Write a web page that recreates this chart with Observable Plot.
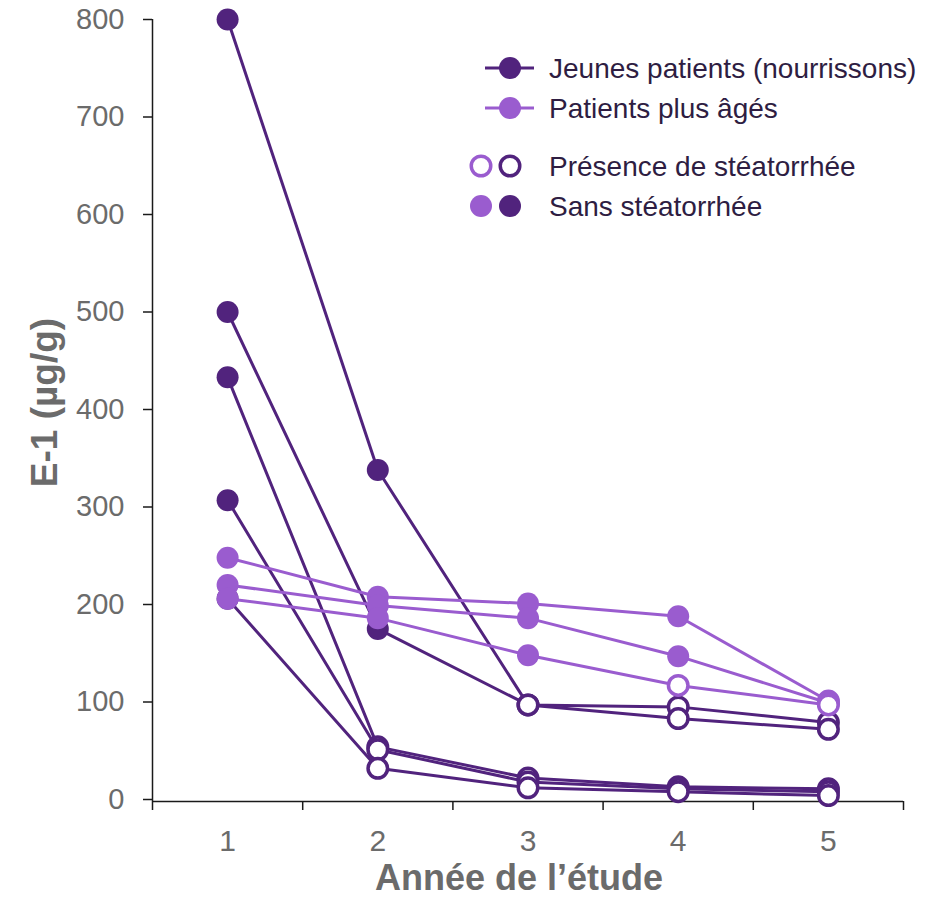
<!DOCTYPE html>
<html>
<head>
<meta charset="utf-8">
<script src="https://cdn.jsdelivr.net/npm/d3@7"></script>
<script src="https://cdn.jsdelivr.net/npm/@observablehq/plot@0.6"></script>
<style>
  body { margin: 0; background: #fff; }
  #chart { width: 938px; height: 898px; }
</style>
</head>
<body>
<div id="chart"></div>
<script>
// Study years and axis ticks
const years = [1, 2, 3, 4, 5];
const yearEdges = [0.5, 1.5, 2.5, 3.5, 4.5, 5.5];
const yTicks = [0, 100, 200, 300, 400, 500, 600, 700, 800];

// Faecal elastase-1 (µg/g) per patient and year — infants
const jeune1 = [800, 338, 97, 95, 79];
const jeune2 = [500, 175, 97, 83, 72];
const jeune3 = [433, 54, 22, 13, 11];
const jeune4 = [307, 51, 18, 11, 8];
const jeune5 = [206, 32, 12, 8, 4];
// Steatorrhoea present (1) or not (0) at each visit — infants
const jeune1Steato = [0, 0, 1, 1, 1];
const jeune2Steato = [0, 0, 1, 1, 1];
const jeune3Steato = [0, 1, 1, 1, 1];
const jeune4Steato = [0, 1, 1, 1, 1];
const jeune5Steato = [0, 1, 1, 1, 1];

// Older patients
const age1 = [248, 208, 201, 188, 101];
const age2 = [220, 199, 186, 147, 99];
const age3 = [206, 186, 148, 117, 97];
const age1Steato = [0, 0, 0, 0, 1];
const age2Steato = [0, 0, 0, 0, 1];
const age3Steato = [0, 0, 0, 1, 1];

const groupLabels = ["Jeunes patients (nourrissons)", "Patients plus âgés"];
const steatoLabels = ["Présence de stéatorrhée", "Sans stéatorrhée"];
const yTitle = "E-1 (µg/g)";
const xTitle = "Année de l’étude";

const DARK = "#51237d";
const LIGHT = "#9a5ccf";
const GRAY = "#6b6b6b";
const INK = "#2e1d42";
const AXIS = "#1a1a1a";

function rows(group, id, values, steato) {
  return values.map((v, i) => ({group, id, year: years[i], value: v, steato: steato[i] === 1}));
}

const jeunes = [
  ...rows("jeune", "j1", jeune1, jeune1Steato),
  ...rows("jeune", "j2", jeune2, jeune2Steato),
  ...rows("jeune", "j3", jeune3, jeune3Steato),
  ...rows("jeune", "j4", jeune4, jeune4Steato),
  ...rows("jeune", "j5", jeune5, jeune5Steato)
];
const ages = [
  ...rows("age", "a1", age1, age1Steato),
  ...rows("age", "a2", age2, age2Steato),
  ...rows("age", "a3", age3, age3Steato)
];

const R_FILLED = 11;
const R_OPEN = 9.75;
const SW_OPEN = 3.5;

function seriesMarks(data, color) {
  return [
    Plot.line(data, {x: "year", y: "value", z: "id", stroke: color, strokeWidth: 3}),
    Plot.dot(data.filter(d => !d.steato), {x: "year", y: "value", r: R_FILLED, fill: color, stroke: "none"}),
    Plot.dot(data.filter(d => d.steato), {x: "year", y: "value", r: R_OPEN, fill: "white", stroke: color, strokeWidth: SW_OPEN})
  ];
}

const chart = Plot.plot({
  width: 938,
  height: 898,
  marginLeft: 152,
  marginRight: 35,
  marginTop: 19,
  marginBottom: 97,
  style: {fontFamily: "'Liberation Sans', Arial, sans-serif", background: "white"},
  x: {domain: [0.5, 5.5]},
  y: {domain: [-2.05, 800]},
  marks: [
    Plot.ruleX([0.5], {stroke: AXIS, strokeWidth: 1.5}),
    Plot.ruleY([-2.05], {stroke: AXIS, strokeWidth: 1.5}),
    Plot.axisY({ticks: yTicks, tickSize: 9, tickPadding: 19, fontSize: 29, stroke: AXIS, fill: GRAY, strokeWidth: 1.5, label: null}),
    Plot.axisX({ticks: yearEdges, tickSize: 9, tickFormat: () => "", stroke: AXIS, strokeWidth: 1.5, label: null}),
    Plot.axisX({ticks: years, tickSize: 0, tickPadding: 28, fontSize: 30, fill: GRAY, tickFormat: d => String(d), label: null}),
    Plot.text([yTitle], {text: d => d, frameAnchor: "left", textAnchor: "middle", lineAnchor: "middle", dx: -107, dy: -8, rotate: -90, fontSize: 37, fontWeight: "bold", fill: GRAY}),
    Plot.text([xTitle], {text: d => d, frameAnchor: "bottom", textAnchor: "middle", lineAnchor: "middle", dx: -9, dy: 77, fontSize: 36, fontWeight: "bold", fill: GRAY}),
    ...seriesMarks(jeunes, DARK),
    ...seriesMarks(ages, LIGHT)
  ]
});

// Legend drawn into the same SVG, top right of the plot area
const svg = d3.select(chart);
const lg = svg.append("g")
  .attr("font-family", "'Liberation Sans', Arial, sans-serif")
  .attr("font-size", 28)
  .attr("text-anchor", "start")
  .attr("fill", INK);
const textX = 549;
[[DARK, 68], [LIGHT, 108]].forEach(([c, y], i) => {
  lg.append("line").attr("x1", 485).attr("x2", 534).attr("y1", y).attr("y2", y).attr("stroke", c).attr("stroke-width", 3);
  lg.append("circle").attr("cx", 510).attr("cy", y).attr("r", R_FILLED).attr("fill", c);
  lg.append("text").attr("x", textX).attr("y", y).attr("dy", "0.35em").text(groupLabels[i]);
});
[[true, 166], [false, 206]].forEach(([open, y], i) => {
  [[LIGHT, 481], [DARK, 510]].forEach(([c, x]) => {
    if (open) {
      lg.append("circle").attr("cx", x).attr("cy", y).attr("r", R_OPEN).attr("fill", "white").attr("stroke", c).attr("stroke-width", SW_OPEN);
    } else {
      lg.append("circle").attr("cx", x).attr("cy", y).attr("r", R_FILLED).attr("fill", c);
    }
  });
  lg.append("text").attr("x", textX).attr("y", y).attr("dy", "0.35em").text(steatoLabels[i]);
});

document.getElementById("chart").appendChild(chart);
</script>
</body>
</html>
